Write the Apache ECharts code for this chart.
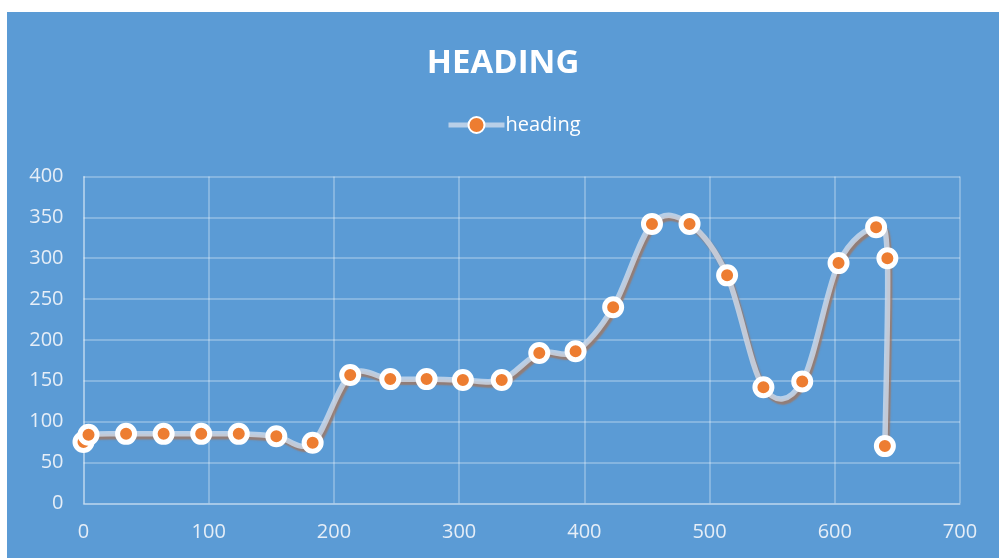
<!DOCTYPE html>
<html>
<head>
<meta charset="utf-8">
<script src="https://cdn.jsdelivr.net/npm/echarts@6/dist/echarts.min.js"></script>
<style>
  html, body { margin: 0; padding: 0; background: #fff; }
  #chart { position: absolute; left: 7px; top: 12px; width: 992px; height: 546px; }
</style>
</head>
<body>
<div id="chart"></div>
<script>
// values
const xValues = [0, 4, 34, 64, 94, 124, 154, 183, 213, 245, 274, 303, 334, 364, 393, 423, 454, 484, 514, 543, 574, 603, 633, 642, 640];
const headingValues = [75, 84, 85, 85, 85, 85, 82, 74, 157, 152, 152, 151, 151, 184, 186, 240, 342, 342, 279, 142, 149, 294, 338, 300, 70];
const seriesName = 'heading';
const titleText = 'HEADING';

const points = xValues.map((x, i) => [x, headingValues[i]]);

const labelColor = '#E6EEF7';
const gridColor = 'rgba(255,255,255,0.35)';
const curveColor = 'rgba(208,220,236,0.8)';

// excel-like smoothing (catmull-rom, tension 1/6), through the axis scales
function renderCurve(params, api) {
  if (params.dataIndex !== 0) return null;
  const n = points.length;
  const c = k => api.coord(points[Math.max(0, Math.min(n - 1, k))]);
  let d = '';
  for (let i = 0; i < n - 1; i++) {
    const p0 = c(i - 1), p1 = c(i), p2 = c(i + 1), p3 = c(i + 2);
    const cp1 = [p1[0] + (p2[0] - p0[0]) / 6, p1[1] + (p2[1] - p0[1]) / 6];
    const cp2 = [p2[0] - (p3[0] - p1[0]) / 6, p2[1] - (p3[1] - p1[1]) / 6];
    if (i === 0) d += 'M' + p1[0] + ' ' + p1[1];
    d += 'C' + cp1[0] + ' ' + cp1[1] + ' ' + cp2[0] + ' ' + cp2[1] + ' ' + p2[0] + ' ' + p2[1];
  }
  return {
    type: 'path',
    shape: { pathData: d },
    style: {
      fill: null,
      stroke: curveColor,
      lineWidth: 5.5,
      lineJoin: 'round',
      shadowColor: 'rgba(160,118,95,1)',
      shadowOffsetX: 2,
      shadowOffsetY: 3,
      shadowBlur: 1.5
    }
  };
}

const chart = echarts.init(document.getElementById('chart'));
chart.setOption({
  backgroundColor: '#5B9BD5',
  animation: false,
  title: {
    text: titleText,
    left: 'center',
    top: 30,
    textStyle: {
      color: '#fff',
      fontFamily: 'Open Sans',
      fontWeight: 'bold',
      fontSize: 33
    }
  },
  legend: {
    data: [seriesName],
    left: 434,
    top: 98,
    itemWidth: 56,
    itemHeight: 20,
    itemGap: 4,
    lineStyle: { color: curveColor, width: 5, opacity: 1 },
    textStyle: {
      color: '#fff',
      fontFamily: 'Open Sans',
      fontSize: 20,
      padding: [0, 0, 0, -4]
    }
  },
  grid: {
    left: 76.5,
    right: 39,
    top: 164.5,
    bottom: 54.7,
    containLabel: false
  },
  xAxis: {
    type: 'value',
    min: 0,
    max: 700,
    interval: 100,
    axisLine: { show: true, lineStyle: { color: gridColor, width: 1.5 } },
    axisTick: { show: false },
    splitLine: { show: true, lineStyle: { color: gridColor, width: 1.5 } },
    axisLabel: {
      color: labelColor,
      fontFamily: 'Open Sans',
      fontSize: 20,
      margin: 19
    }
  },
  yAxis: {
    type: 'value',
    min: 0,
    max: 400,
    interval: 50,
    axisLine: { show: true, lineStyle: { color: gridColor, width: 1.5 } },
    axisTick: { show: false },
    splitLine: { show: true, lineStyle: { color: gridColor, width: 1.5 } },
    axisLabel: {
      color: labelColor,
      fontFamily: 'Open Sans',
      fontSize: 20,
      margin: 20
    }
  },
  series: [
    {
      name: 'curve',
      type: 'custom',
      data: points,
      encode: { x: 0, y: 1 },
      renderItem: renderCurve,
      silent: true,
      z: 2
    },
    {
      name: seriesName,
      type: 'line',
      data: points,
      symbol: 'circle',
      symbolSize: 17,
      lineStyle: { width: 0, opacity: 0 },
      itemStyle: {
        color: '#ED7D31',
        borderColor: '#fff',
        borderWidth: 5
      },
      z: 3
    }
  ]
});
</script>
</body>
</html>
